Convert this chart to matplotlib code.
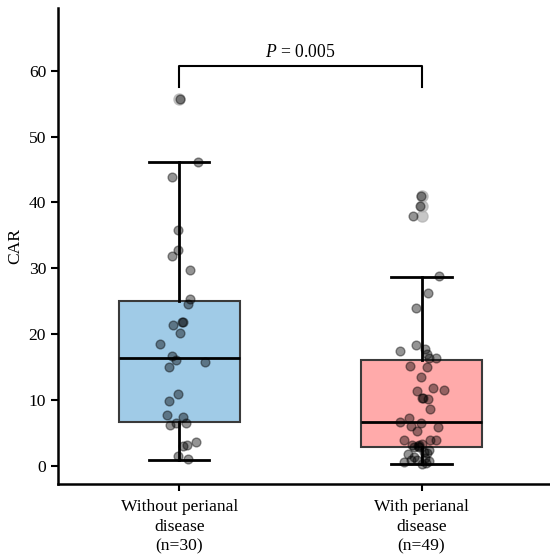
import matplotlib
matplotlib.use("Agg")
import matplotlib.pyplot as plt

plt.rcParams['font.family'] = ['Liberation Serif', 'DejaVu Serif']
plt.rcParams['mathtext.fontset'] = 'custom'
plt.rcParams['mathtext.rm'] = 'Liberation Serif'
plt.rcParams['mathtext.it'] = 'Liberation Serif:italic'

# group labels
groups = ["Without perianal\ndisease\n(n=30)", "With perianal\ndisease\n(n=49)"]
box_colors = ["#a0cbe7", "#ffaaaa"]

# box statistics (whislo, q1, med, q3, whishi)
stats_without = [0.9, 6.7, 16.4, 25.0, 46.1]
stats_with = [0.3, 2.9, 6.6, 16.1, 28.7]
fliers_without = [55.8]
fliers_with = [41.0, 39.4, 37.9]

# individual CAR values and their jitter offsets
car_without = [55.8, 46.2, 43.9, 35.8, 32.7, 31.8, 29.7, 25.3, 24.5, 21.9,
               21.9, 21.4, 20.1, 18.5, 16.7, 16.1, 15.0, 15.8, 10.9, 9.8,
               7.7, 7.4, 6.2, 6.5, 6.5, 3.65, 3.1, 3.0, 1.4, 1.0]
jit_without = [0.002, 0.079, -0.031, -0.007, -0.006, -0.031, 0.043, 0.043, 0.038, 0.010,
               0.017, -0.024, 0.005, -0.081, -0.030, -0.014, -0.042, 0.105, -0.006, -0.041,
               -0.052, 0.016, -0.036, -0.013, 0.028, 0.069, 0.034, 0.017, -0.005, 0.036]

car_with = [41.0, 39.4, 37.9, 28.8, 26.3, 24.0, 17.4, 18.3, 17.8, 16.9,
            16.3, 16.3, 15.1, 15.0, 13.4, 11.3, 11.8, 11.5, 10.3, 10.3,
            10.1, 8.6, 7.2, 6.7, 6.4, 6.0, 5.8, 5.3, 3.85, 3.85,
            3.85, 3.15, 3.0, 3.1, 2.9, 2.4, 1.8, 1.9, 1.3, 1.2,
            0.5, 0.3, 0.65, 0.8, 2.8, 2.0, 0.9, 0.4, 3.3]
jit_with = [-0.004, -0.005, -0.036, 0.072, 0.025, -0.021, -0.088, -0.022, 0.014, 0.022,
            0.031, 0.061, -0.047, 0.022, -0.001, -0.019, 0.047, 0.091, 0.002, 0.007,
            0.025, 0.036, -0.050, -0.088, -0.002, -0.043, 0.066, -0.018, -0.074, 0.036,
            0.061, -0.040, -0.015, -0.010, -0.012, 0.032, -0.054, 0.022, -0.033, 0.015,
            -0.072, 0.002, 0.029, -0.019, -0.030, 0.011, -0.043, 0.019, 0.003]

p_text = "$P$ = 0.005"
bracket_y = [57.6, 60.7]

fig = plt.figure(figsize=(5.5, 5.56), dpi=100)
ax = fig.add_axes([0.1055, 0.1295, 0.8945, 0.8565])

bstats = []
for s, fl in [(stats_without, fliers_without), (stats_with, fliers_with)]:
    bstats.append({"whislo": s[0], "q1": s[1], "med": s[2], "q3": s[3],
                   "whishi": s[4], "fliers": fl})

bp = ax.bxp(bstats, positions=[0, 1], widths=0.5, capwidths=0.25,
            patch_artist=True, showfliers=True,
            boxprops=dict(edgecolor="#3a3a3a", linewidth=1.5),
            medianprops=dict(color="black", linewidth=2),
            whiskerprops=dict(color="black", linewidth=2),
            capprops=dict(color="black", linewidth=2),
            flierprops=dict(marker="o", markersize=8, markerfacecolor="#b0b0b0",
                            markeredgecolor="#b0b0b0", alpha=0.7))
for patch, c in zip(bp["boxes"], box_colors):
    patch.set_facecolor(c)

for pos, vals, jit in [(0, car_without, jit_without), (1, car_with, jit_with)]:
    xs = [pos + j for j in jit]
    ax.scatter(xs, vals, s=40, color="black", alpha=0.42,
               edgecolors="black", linewidths=1, zorder=3)

# significance bracket
ax.plot([0, 0, 1, 1], [bracket_y[0], bracket_y[1], bracket_y[1], bracket_y[0]],
        color="black", linewidth=1.5)
ax.text(0.5, bracket_y[1] + 0.8, p_text, ha="center", va="bottom", fontsize=12.7)

ax.set_xlim(-0.5, 1.53)
ax.set_ylim(-2.8, 69.6)
ax.set_yticks([0, 10, 20, 30, 40, 50, 60])
ax.set_xticks([0, 1])
ax.set_xticklabels(groups, fontsize=12.6, linespacing=1.3)
ax.set_ylabel("CAR", fontsize=12.6)
ax.tick_params(axis="both", labelsize=12.6, width=1.5, length=5)
ax.tick_params(axis="x", pad=6)
ax.spines["top"].set_visible(False)
ax.spines["right"].set_visible(False)
ax.spines["left"].set_linewidth(1.8)
ax.spines["bottom"].set_linewidth(1.8)

fig.savefig("out.png", dpi=100)
